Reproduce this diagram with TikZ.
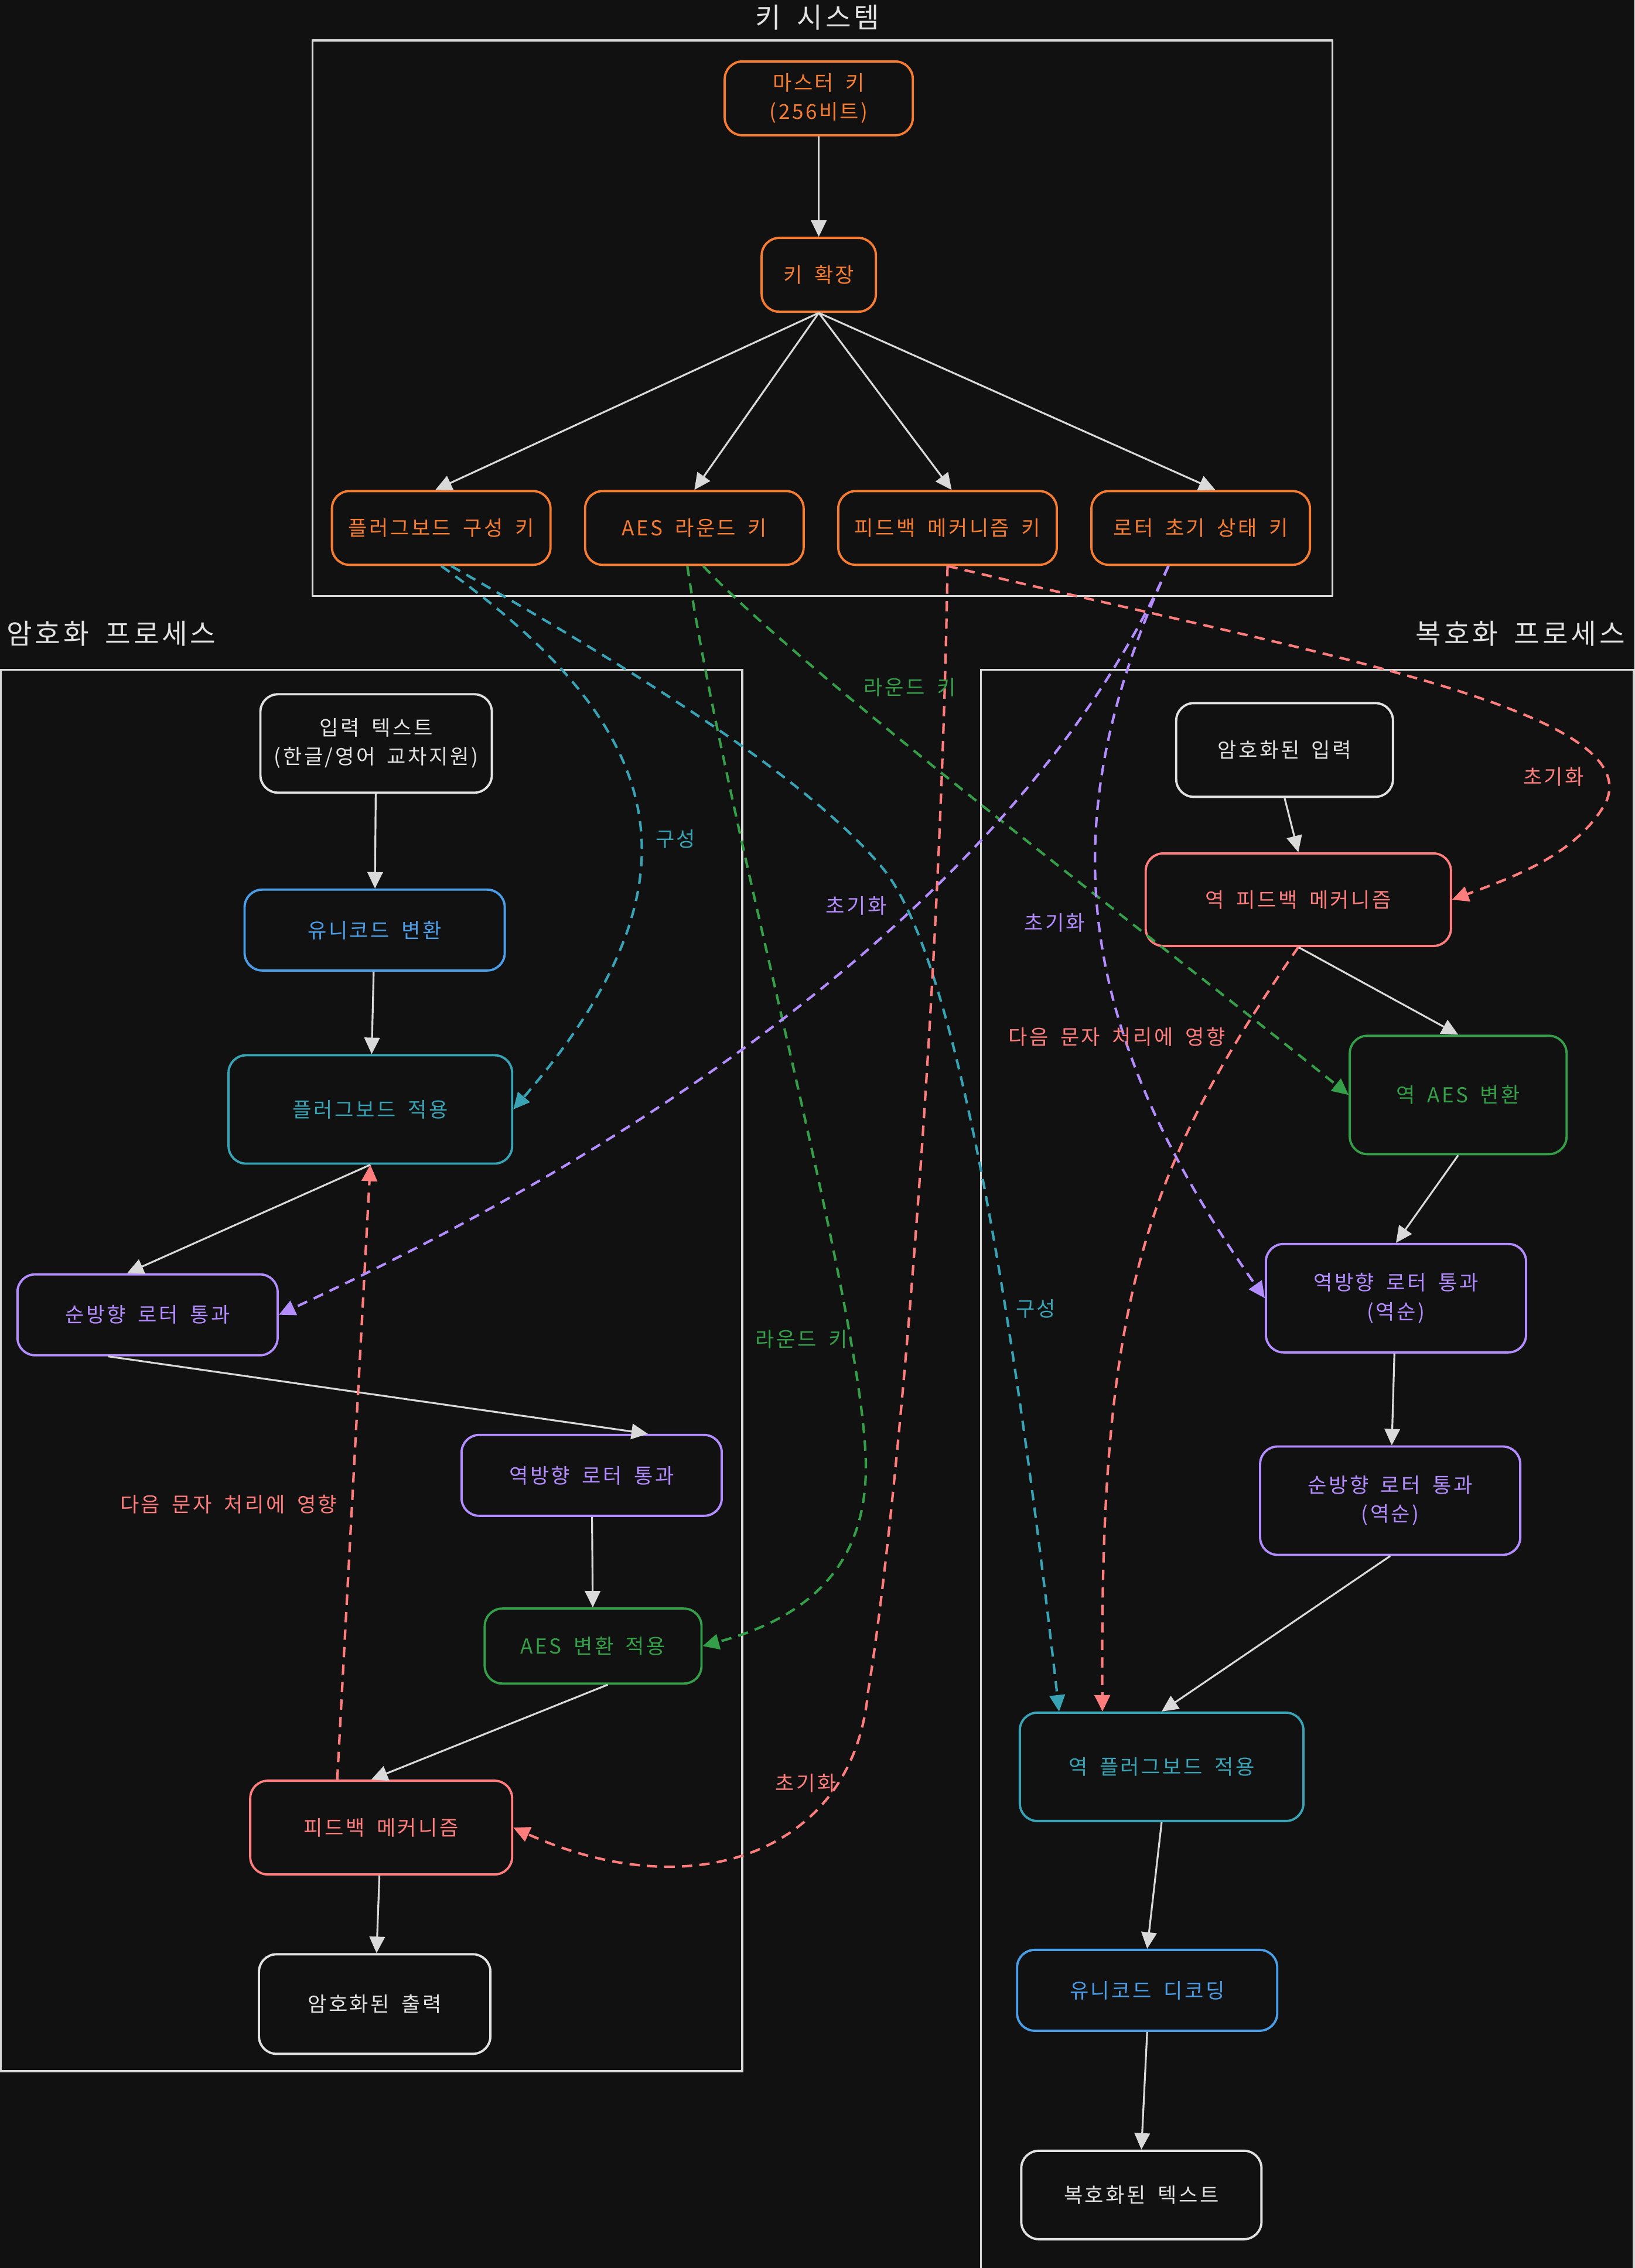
\documentclass[tikz,border=0pt]{standalone}
\usepackage{fontspec}
\setmainfont{Noto Sans CJK KR}[LetterSpace=10, WordSpace=1.8]
\usetikzlibrary{arrows.meta, positioning, calc}
\definecolor{bgColor}{RGB}{17,17,17}
\definecolor{lineColor}{RGB}{217,217,217}
\definecolor{ioColor}{RGB}{226,226,226}
\definecolor{keyColor}{RGB}{245,124,48}
\definecolor{unicodeColor}{RGB}{74,158,232}
\definecolor{plugColor}{RGB}{56,163,181}
\definecolor{rotorColor}{RGB}{179,140,255}
\definecolor{aesColor}{RGB}{52,158,72}
\definecolor{feedbackColor}{RGB}{255,125,125}

\begin{document}
\begin{tikzpicture}[
    x=0.02469cm, y=-0.02469cm,
    box/.style={rectangle, rounded corners=0.3cm, draw, line width=1.1pt, align=center, font=\fontsize{10}{14}\selectfont, inner sep=2pt},
    keybox/.style={box, draw=keyColor, text=keyColor, minimum width=3.73cm, minimum height=1.26cm},
    iobox/.style={box, draw=ioColor, text=ioColor},
    unibox/.style={box, draw=unicodeColor, text=unicodeColor},
    plugbox/.style={box, draw=plugColor, text=plugColor},
    rotorbox/.style={box, draw=rotorColor, text=rotorColor},
    aesbox/.style={box, draw=aesColor, text=aesColor},
    fbbox/.style={box, draw=feedbackColor, text=feedbackColor},
    arrow/.style={-{Triangle[length=8pt, width=7.5pt]}, line width=0.9pt, draw=lineColor},
    link/.style={-{Triangle[length=8pt, width=7.5pt]}, line width=1.2pt, dash pattern=on 5pt off 3.5pt},
    groupframe/.style={draw=lineColor, line width=1pt},
    grouptitle/.style={text=ioColor, font=\fontsize{13.5}{16}\selectfont},
    lbl/.style={font=\fontsize{10}{12}\selectfont}
]
    % Canvas
    \fill[bgColor] (0,0) rectangle (1130,1568);
    \useasboundingbox (0,0) rectangle (1130,1568);

    % Groups
    \draw[groupframe] (216,28) rectangle (921,412);
    \draw[groupframe] (0.5,463) rectangle (513,1432);
    \draw[groupframe] (678,463) rectangle (1129.5,1590);
    \node[grouptitle] (keyTitle) at (565,12) {키 시스템};
    \node[grouptitle] (encTitle) at (77,438) {암호화 프로세스};
    \node[grouptitle] (decTitle) at (1051,438) {복호화 프로세스};

    % Key system
    \node[keybox, minimum width=3.21cm] (master) at (566,68) {마스터 키\\(256비트)};
    \node[keybox, minimum width=1.95cm] (keyexp) at (566,190) {키 확장};
    \node[keybox] (pbkey) at (305,365) {플러그보드 구성 키};
    \node[keybox] (aeskey) at (480,365) {AES 라운드 키};
    \node[keybox] (fbkey) at (655,365) {피드백 메커니즘 키};
    \node[keybox] (rotorkey) at (830,365) {로터 초기 상태 키};

    % Encryption
    \node[iobox, minimum width=3.95cm, minimum height=1.68cm] (input) at (260,514) {입력 텍스트\\(한글/영어 교차지원)};
    \node[unibox, minimum width=4.44cm, minimum height=1.38cm] (unicode) at (259,643) {유니코드 변환};
    \node[plugbox, minimum width=4.84cm, minimum height=1.85cm] (pbapply) at (256,767) {플러그보드 적용};
    \node[rotorbox, minimum width=4.44cm, minimum height=1.38cm] (fwdrotor) at (102,909) {순방향 로터 통과};
    \node[rotorbox, minimum width=4.44cm, minimum height=1.38cm] (revrotor) at (409,1020) {역방향 로터 통과};
    \node[aesbox, minimum width=3.70cm, minimum height=1.28cm] (aesapply) at (410,1138) {AES 변환 적용};
    \node[fbbox, minimum width=4.47cm, minimum height=1.60cm] (feedback) at (263.5,1263.5) {피드백 메커니즘};
    \node[iobox, minimum width=3.95cm, minimum height=1.70cm] (output) at (259,1385.5) {암호화된 출력};

    % Decryption
    \node[iobox, minimum width=3.70cm, minimum height=1.60cm] (decinput) at (888,518.5) {암호화된 입력};
    \node[fbbox, minimum width=5.21cm, minimum height=1.58cm] (invfb) at (897.5,622) {역 피드백 메커니즘};
    \node[aesbox, minimum width=3.70cm, minimum height=2.02cm] (invaes) at (1008,757) {역 AES 변환};
    \node[rotorbox, minimum width=4.44cm, minimum height=1.85cm] (revrotor2) at (965,897.5) {역방향 로터 통과\\(역순)};
    \node[rotorbox, minimum width=4.44cm, minimum height=1.85cm] (fwdrotor2) at (961,1037.5) {순방향 로터 통과\\(역순)};
    \node[plugbox, minimum width=4.84cm, minimum height=1.85cm] (invpb) at (803,1221.5) {역 플러그보드 적용};
    \node[unibox, minimum width=4.44cm, minimum height=1.38cm] (unidec) at (793,1376) {유니코드 디코딩};
    \node[iobox, minimum width=4.10cm, minimum height=1.51cm] (dectext) at (789,1517.5) {복호화된 텍스트};

    % Key arrows
    \draw[arrow] (master) -- (keyexp);
    \draw[arrow] (keyexp.south) -- ([xshift=-0.1cm]pbkey.north);
    \draw[arrow] (keyexp.south) -- (aeskey.north);
    \draw[arrow] (keyexp.south) -- ([xshift=0.07cm]fbkey.north);
    \draw[arrow] (keyexp.south) -- ([xshift=0.25cm]rotorkey.north);

    % Encryption flow
    \draw[arrow] (input) -- (unicode);
    \draw[arrow] (unicode) -- (pbapply);
    \draw[arrow] (pbapply.south) -- ([xshift=-0.35cm]fwdrotor.north);
    \draw[arrow] ([xshift=-0.67cm]fwdrotor.south) -- ([xshift=0.96cm]revrotor.north);
    \draw[arrow] (revrotor) -- (aesapply);
    \draw[arrow] ([xshift=0.25cm]aesapply.south) -- ([xshift=-0.17cm]feedback.north);
    \draw[arrow] (feedback) -- (output);

    % Decryption flow
    \draw[arrow] (decinput.south) -- (invfb.north);
    \draw[arrow] (invfb.south) -- (invaes.north);
    \draw[arrow] (invaes.south) -- (revrotor2.north);
    \draw[arrow] (revrotor2) -- (fwdrotor2);
    \draw[arrow] (fwdrotor2.south) -- (invpb.north);
    \draw[arrow] (invpb.south) -- (unidec.north);
    \draw[arrow] (unidec.south) -- (dectext.north);

    % Key links
    \draw[link, plugColor] (pbkey.south) .. controls (465,505) and (490,610) .. (pbapply.east);
    \draw[link, plugColor] ([xshift=0.17cm]pbkey.south) .. controls (450,470) and (560,540) .. (610,600) .. controls (660,660) and (700,900) .. ([xshift=-1.75cm]invpb.north);
    \draw[link, aesColor] ([xshift=-0.12cm]aeskey.south) .. controls (500,560) and (590,880) .. (598,1000) .. controls (604,1080) and (560,1118) .. (aesapply.east);
    \draw[link, aesColor] ([xshift=0.15cm]aeskey.south) .. controls (560,470) and (800,650) .. (invaes.west);
    \draw[link, feedbackColor] (fbkey.south) .. controls (900,450) and (1140,490) .. (1110,555) .. controls (1090,590) and (1050,605) .. (invfb.east);
    \draw[link, feedbackColor] (fbkey.south) .. controls (650,700) and (620,1050) .. (600,1170) .. controls (590,1280) and (480,1320) .. (feedback.east);
    \draw[link, rotorColor] ([xshift=-0.55cm]rotorkey.south) .. controls (750,520) and (600,720) .. (fwdrotor.east);
    \draw[link, rotorColor] ([xshift=-0.55cm]rotorkey.south) .. controls (730,560) and (735,700) .. (revrotor2.west);

    % Feedback links
    \draw[link, feedbackColor] ([xshift=-0.75cm]feedback.north) -- (pbapply.south);
    \draw[link, feedbackColor] (invfb.south) .. controls (790,810) and (760,900) .. ([xshift=-1.01cm]invpb.north);

    % Link labels
    \node[lbl, text=plugColor] (cfgA) at (467,580) {구성};
    \node[lbl, text=plugColor] (cfgB) at (716,905) {구성};
    \node[lbl, text=aesColor] (roundA) at (554,926) {라운드 키};
    \node[lbl, text=aesColor] (roundB) at (629,475) {라운드 키};
    \node[lbl, text=feedbackColor] (initA) at (1074,537) {초기화};
    \node[lbl, text=feedbackColor] (initB) at (557,1233) {초기화};
    \node[lbl, text=rotorColor] (initC) at (592,626) {초기화};
    \node[lbl, text=rotorColor] (initD) at (729,638) {초기화};
    \node[lbl, text=feedbackColor] (nextA) at (158,1040) {다음 문자 처리에 영향};
    \node[lbl, text=feedbackColor] (nextB) at (772,717) {다음 문자 처리에 영향};
\end{tikzpicture}
\end{document}
